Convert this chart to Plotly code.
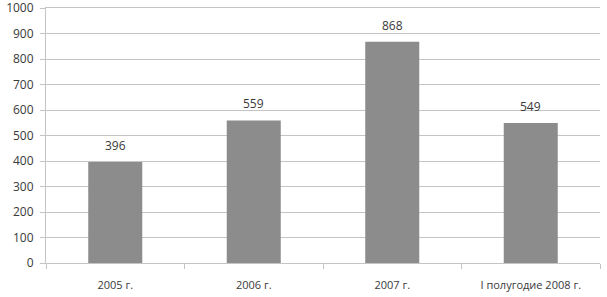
import plotly.graph_objects as go

categories = ["2005 г.", "2006 г.", "2007 г.", "I полугодие 2008 г."]
values = [396, 559, 868, 549]
y_ticks = [0, 100, 200, 300, 400, 500, 600, 700, 800, 900, 1000]

fig = go.Figure(go.Bar(
    x=categories, y=values, width=0.39,
    marker=dict(color="#8c8c8c", line=dict(width=0)),
    hoverinfo="skip",
))
for c, v in zip(categories, values):
    fig.add_annotation(x=c, y=v, text=str(v), showarrow=False,
                       yanchor="bottom", yshift=6,
                       font=dict(size=12, color="#3a3a3a", family="Open Sans"))
fig.update_layout(
    width=607, height=297,
    margin=dict(l=46, r=7, t=8, b=34),
    paper_bgcolor="white", plot_bgcolor="white",
    showlegend=False,
    font=dict(family="Open Sans", size=11, color="#3a3a3a"),
)
fig.update_yaxes(
    range=[0, 1000], tickmode="array", tickvals=y_ticks,
    ticklabeloverflow="allow", ticklabelstandoff=4, automargin=False,
    showgrid=True, gridcolor="#c4c4c4", gridwidth=1,
    showline=True, linecolor="#c4c4c4", ticks="outside", ticklen=5, tickcolor="#c4c4c4",
    tickfont=dict(size=12, color="#3a3a3a"), zeroline=False,
)
fig.update_xaxes(
    showline=True, linecolor="#c4c4c4", mirror=True, automargin=False,
    ticks="outside", ticklen=5, tickcolor="#c4c4c4",
    tickson="boundaries", tickfont=dict(size=11, color="#3a3a3a"),
    ticklabelstandoff=12,
    range=[-0.5, 3.5],
)
fig.write_html("out.html", config={"displayModeBar": False},
               post_script="document.body.style.margin='0';")
